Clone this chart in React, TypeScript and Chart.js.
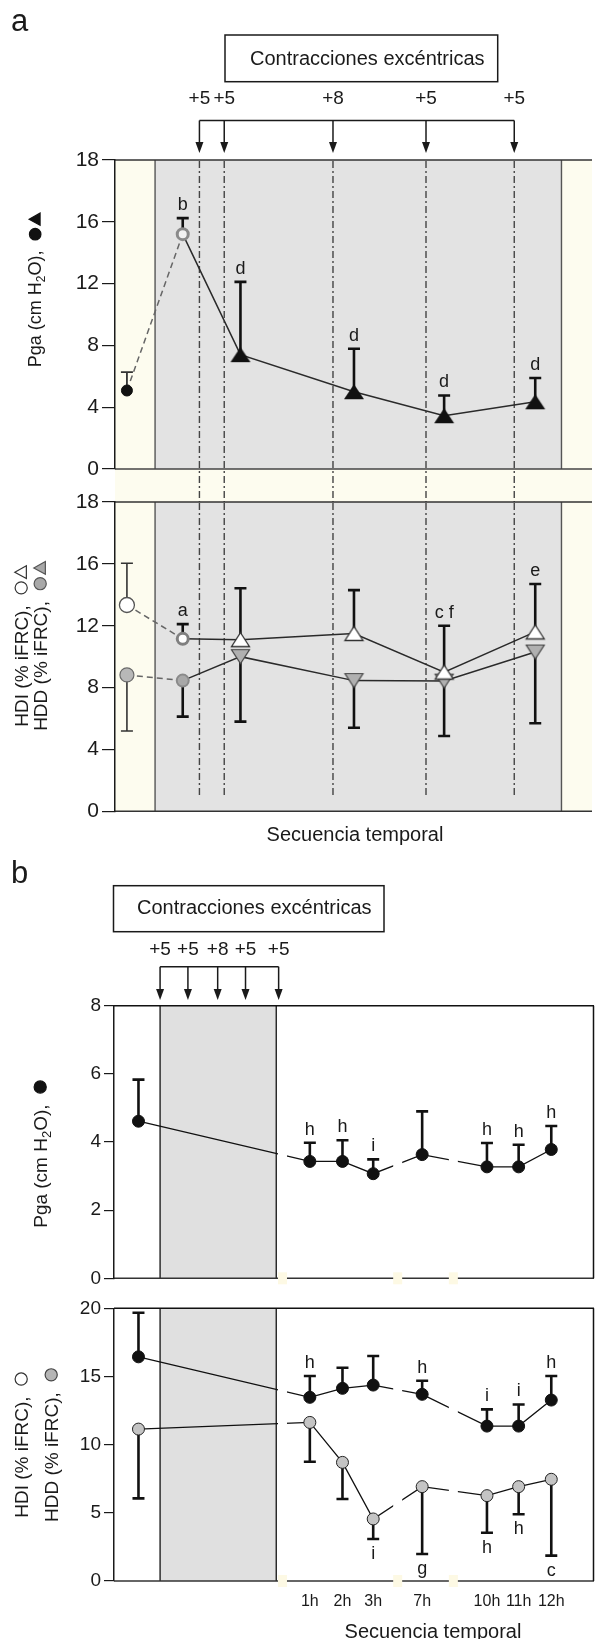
import React, { useEffect, useRef } from "react";
import { Chart, registerables } from "chart.js";

Chart.register(...registerables);

const FONT = "'Liberation Sans', Arial, Helvetica, sans-serif";
const INK = "#1a1a1a";
const YELLOW = "#fdfcef";
const GRAY_A = "#e3e3e3";
const GRAY_B = "#e0e0e0";

// ---------------- Panel a ----------------
const stagesA = ["Basal", "Post", "Serie 1", "Serie 2", "Serie 3", "Serie 4"];
const xA = [2.5, 14.2, 26.3, 50.1, 69.0, 88.1];
const pgaA = [5.08, 15.2, 7.4, 5.0, 3.45, 4.35];
const pgaAErrUp = [6.27, 16.24, 12.11, 7.78, 4.76, 5.89];
const pgaALetters = ["", "b", "d", "d", "d", "d"];
const hdiA = [13.34, 11.15, 11.1, 11.5, 9.0, 11.6];
const hdiAErrUp = [16.04, 12.1, 14.42, 14.3, 12.0, 14.7];
const hdiALetters = ["", "a", "", "", "c f", "e"];
const hddA = [8.82, 8.45, 10.0, 8.45, 8.42, 10.3];
const hddAErrDown = [5.19, 6.12, 5.8, 5.4, 4.87, 5.69];
const boutsA = [17.7, 22.9, 45.7, 65.2, 83.7];
const boutLabels = ["+5", "+5", "+8", "+5", "+5"];
const exerciseBandA = [8.4, 93.6];
const yTicksA = [0, 4, 8, 12, 16, 20];
const yTickLabelsA = ["0", "4", "8", "12", "16", "18"];

// ---------------- Panel b ----------------
const hoursB = ["Basal", "1h", "2h", "3h", "7h", "10h", "11h", "12h"];
const xB = [5.1, 40.8, 47.6, 54.0, 64.2, 77.7, 84.3, 91.1];
const pgaB = [4.61, 3.43, 3.43, 3.07, 3.63, 3.27, 3.27, 3.78];
const pgaBErrUp = [5.83, 3.98, 4.05, 3.49, 4.9, 3.97, 3.92, 4.47];
const pgaBLetters = ["", "h", "h", "i", "", "h", "h", "h"];
const hdiB = [16.44, 13.47, 14.13, 14.37, 13.69, 11.36, 11.36, 13.27];
const hdiBErrUp = [19.67, 15.03, 15.64, 16.5, 14.69, 12.59, 12.95, 15.03];
const hdiBLetters = ["", "h", "", "", "h", "i", "i", "h"];
const hddB = [11.14, 11.63, 8.7, 4.55, 6.92, 6.26, 6.92, 7.46];
const hddBErrDown = [6.06, 8.75, 6.01, 3.08, 1.98, 3.54, 4.89, 1.86];
const hddBLetters = ["", "", "", "i", "g", "h", "h", "c"];
const boutsB = [9.6, 15.4, 21.6, 27.4, 34.3];
const exerciseBandB = [9.6, 33.8];
const axisBreaksB = [35.1, 59.1, 70.7];
const yTicksBTop = [0, 2, 4, 6, 8];
const yTickLabelsBTop = ["0", "2", "4", "6", "8"];
const yTicksBBottom = [0, 5, 10, 15, 20];
const yTickLabelsBBottom = ["0", "5", "10", "15", "20"];

// ---------------- helpers ----------------
function triImg(w: number, h: number, fill: string, stroke: string, lw: number, down: boolean) {
  const c = document.createElement("canvas");
  c.width = Math.ceil(w + lw * 2 + 2);
  c.height = Math.ceil(h + lw * 2 + 2);
  const g = c.getContext("2d") as CanvasRenderingContext2D;
  const ox = c.width / 2, oy = c.height / 2;
  g.beginPath();
  if (!down) {
    g.moveTo(ox, oy - h / 2); g.lineTo(ox + w / 2, oy + h / 2); g.lineTo(ox - w / 2, oy + h / 2);
  } else {
    g.moveTo(ox, oy + h / 2); g.lineTo(ox + w / 2, oy - h / 2); g.lineTo(ox - w / 2, oy - h / 2);
  }
  g.closePath();
  g.fillStyle = fill; g.fill();
  if (lw > 0) { g.lineWidth = lw; g.strokeStyle = stroke; g.lineJoin = "miter"; g.stroke(); }
  return c;
}

function yAxis(min: number, max: number, ticks: number[], labels: string[], width: number, tickLen: number, fontSize: number) {
  return {
    type: "linear", min, max,
    afterBuildTicks: (s: any) => { s.ticks = ticks.map((v) => ({ value: v })); },
    afterFit: (s: any) => { s.width = width; },
    ticks: { callback: (_v: any, i: number) => labels[i], font: { family: FONT, size: fontSize }, color: INK, padding: 3, autoSkip: false },
    grid: { display: true, drawOnChartArea: false, drawTicks: true, tickLength: tickLen, color: INK, lineWidth: 1.2 },
    border: { display: true, color: INK, width: 1.5 },
  };
}

function hLine(ctx: any, x0: number, x1: number, y: number, color: string, w: number) {
  ctx.save(); ctx.strokeStyle = color; ctx.lineWidth = w; ctx.beginPath(); ctx.moveTo(x0, y); ctx.lineTo(x1, y); ctx.stroke(); ctx.restore();
}
function vLine(ctx: any, x: number, y0: number, y1: number, color: string, w: number, dash?: number[]) {
  ctx.save(); ctx.strokeStyle = color; ctx.lineWidth = w; if (dash) ctx.setLineDash(dash);
  ctx.beginPath(); ctx.moveTo(x, y0); ctx.lineTo(x, y1); ctx.stroke(); ctx.restore();
}

function drawErrorBars(chart: any, dsIndex: number, ends: number[], style: (i: number) => { color: string; width: number }) {
  const { ctx } = chart; const xs = chart.scales.x, ys = chart.scales.y;
  const data = chart.data.datasets[dsIndex].data;
  ends.forEach((end, i) => {
    const px = xs.getPixelForValue(data[i].x);
    const py0 = ys.getPixelForValue(data[i].y);
    const py1 = ys.getPixelForValue(end);
    const st = style(i);
    ctx.save(); ctx.strokeStyle = st.color; ctx.lineWidth = st.width;
    ctx.beginPath(); ctx.moveTo(px, py0); ctx.lineTo(px, py1);
    ctx.moveTo(px - 6, py1); ctx.lineTo(px + 6, py1); ctx.stroke(); ctx.restore();
  });
}

function drawLetters(chart: any, dsIndex: number, ends: number[], letters: string[], above: boolean) {
  const { ctx } = chart; const xs = chart.scales.x, ys = chart.scales.y;
  const data = chart.data.datasets[dsIndex].data;
  ctx.save(); ctx.font = `18px ${FONT}`; ctx.fillStyle = INK; ctx.textAlign = "center"; ctx.textBaseline = "alphabetic";
  letters.forEach((t, i) => {
    if (!t) return;
    const px = xs.getPixelForValue(data[i].x);
    const py = ys.getPixelForValue(ends[i]);
    ctx.fillText(t, px, above ? py - 8 : py + 20);
  });
  ctx.restore();
}

type Sym = { kind: "circle" | "tri"; fill: string; stroke: string };
type Part = { text?: string; sub?: boolean; sym?: Sym; gap?: number };

function drawSymbol(ctx: any, s: Sym, cx: number, cy: number, r: number) {
  ctx.beginPath();
  if (s.kind === "circle") ctx.arc(cx, cy, r, 0, Math.PI * 2);
  else { ctx.moveTo(cx, cy - r * 1.05); ctx.lineTo(cx + r * 1.05, cy + r * 0.85); ctx.lineTo(cx - r * 1.05, cy + r * 0.85); ctx.closePath(); }
  ctx.fillStyle = s.fill; ctx.fill();
  ctx.lineWidth = 1.2; ctx.strokeStyle = s.stroke; ctx.stroke();
}

function drawRotatedTitle(ctx: any, cx: number, cy: number, parts: Part[], size: number) {
  ctx.save();
  ctx.translate(cx, cy);
  ctx.rotate(-Math.PI / 2);
  const main = `${size}px ${FONT}`;
  const sub = `${Math.round(size * 0.68)}px ${FONT}`;
  const symW = size * 0.72;
  let total = 0;
  const widths = parts.map((p) => {
    let w = 0;
    if (p.text !== undefined) { ctx.font = p.sub ? sub : main; w = ctx.measureText(p.text).width; }
    else if (p.sym) w = symW;
    else if (p.gap) w = p.gap;
    total += w; return w;
  });
  let x = -total / 2;
  const base = size * 0.36;
  ctx.fillStyle = INK; ctx.textBaseline = "alphabetic"; ctx.textAlign = "left";
  parts.forEach((p, i) => {
    if (p.text !== undefined) {
      ctx.font = p.sub ? sub : main; ctx.fillStyle = INK;
      ctx.fillText(p.text, x, p.sub ? base + size * 0.2 : base);
    } else if (p.sym) {
      drawSymbol(ctx, p.sym, x + widths[i] / 2, base - size * 0.35, size * 0.32);
    }
    x += widths[i];
  });
  ctx.restore();
}

function drawHeader(chart: any, bouts: number[], o: { box: number[]; textX: number; textY: number; labelY: number; bracketY: number; tipY: number; letter: string; letterX: number; letterY: number }) {
  const { ctx } = chart; const xs = chart.scales.x;
  ctx.save();
  ctx.fillStyle = INK; ctx.font = `31px ${FONT}`; ctx.textAlign = "left"; ctx.textBaseline = "alphabetic";
  ctx.fillText(o.letter, o.letterX, o.letterY);
  ctx.strokeStyle = INK; ctx.lineWidth = 1.5;
  ctx.strokeRect(o.box[0], o.box[1], o.box[2], o.box[3]);
  ctx.font = `20px ${FONT}`;
  ctx.fillText("Contracciones excéntricas", o.textX, o.textY);
  ctx.font = `19px ${FONT}`; ctx.textAlign = "center"; ctx.textBaseline = "middle";
  const px = bouts.map((b) => xs.getPixelForValue(b));
  px.forEach((p, i) => ctx.fillText(boutLabels[i], p, o.labelY));
  ctx.lineWidth = 1.5; ctx.strokeStyle = INK;
  ctx.beginPath(); ctx.moveTo(px[0], o.bracketY); ctx.lineTo(px[px.length - 1], o.bracketY); ctx.stroke();
  px.forEach((p) => {
    ctx.beginPath(); ctx.moveTo(p, o.bracketY); ctx.lineTo(p, o.tipY - 8); ctx.stroke();
    ctx.beginPath(); ctx.moveTo(p, o.tipY); ctx.lineTo(p + 4, o.tipY - 11); ctx.lineTo(p - 4, o.tipY - 11); ctx.closePath();
    ctx.fillStyle = INK; ctx.fill();
  });
  ctx.restore();
}

const baseOptions = (padding: any, y: any, x: any) => ({
  responsive: false,
  maintainAspectRatio: false,
  animation: false,
  events: [],
  layout: { padding },
  plugins: { legend: { display: false }, tooltip: { enabled: false }, title: { display: false } },
  scales: { x, y },
});

const hiddenX = { type: "linear", min: 0, max: 100, display: false };

function segStyle(dashFirst: boolean) {
  return {
    borderDash: (c: any) => (dashFirst && c.p0DataIndex === 0 ? [6, 4] : undefined),
    borderColor: (c: any) => (dashFirst && c.p0DataIndex === 0 ? "#666" : "#2a2a2a"),
  };
}

// ---------------- charts ----------------
function makeA1(canvas: HTMLCanvasElement) {
  const tri = triImg(20, 15, "#111", "#111", 0, false);
  const decor = {
    id: "decorA1",
    beforeDraw(chart: any) {
      const { ctx, chartArea: a } = chart; const xs = chart.scales.x;
      ctx.save();
      ctx.fillStyle = YELLOW; ctx.fillRect(a.left, a.top, a.right - a.left, chart.height - a.top);
      const g0 = xs.getPixelForValue(exerciseBandA[0]), g1 = xs.getPixelForValue(exerciseBandA[1]);
      ctx.fillStyle = GRAY_A; ctx.fillRect(g0, a.top, g1 - g0, a.bottom - a.top);
      ctx.restore();
      vLine(ctx, g0, a.top, a.bottom, "#555", 1.4);
      vLine(ctx, g1, a.top, a.bottom, "#555", 1.4);
      hLine(ctx, a.left, a.right, a.top, "#333", 1.5);
      hLine(ctx, a.left, a.right, a.bottom, "#444", 1.5);
    },
    beforeDatasetsDraw(chart: any) {
      const { ctx, chartArea: a } = chart; const xs = chart.scales.x;
      boutsA.forEach((b) => vLine(ctx, xs.getPixelForValue(b), a.top + 1, chart.height, "#444", 1.4, [7, 3, 2, 3]));
      drawErrorBars(chart, 0, pgaAErrUp, (i) => (i === 0 ? { color: "#333", width: 1.8 } : { color: "#111", width: 2.6 }));
    },
    afterDatasetsDraw(chart: any) {
      drawLetters(chart, 0, pgaAErrUp, pgaALetters, true);
    },
    afterDraw(chart: any) {
      drawHeader(chart, boutsA, { box: [225, 35, 272.7, 46.7], textX: 250, textY: 65, labelY: 99, bracketY: 120.5, tipY: 153, letter: "a", letterX: 11, letterY: 31 });
      drawRotatedTitle(chart.ctx, 35, 290, [
        { text: "Pga (cm H" }, { text: "2", sub: true }, { text: "O),  " },
        { sym: { kind: "circle", fill: "#111", stroke: "#111" } }, { gap: 2 },
        { sym: { kind: "tri", fill: "#111", stroke: "#111" } },
      ], 18);
    },
  };
  return new Chart(canvas, {
    type: "line",
    data: {
      labels: stagesA,
      datasets: [{
        label: "Pga",
        data: xA.map((x, i) => ({ x, y: pgaA[i] })),
        borderWidth: 1.5, tension: 0, fill: false,
        segment: segStyle(true),
        pointStyle: ["circle", "circle", tri, tri, tri, tri],
        pointRadius: [5.5, 5.5, 9, 9, 9, 9],
        pointBackgroundColor: ["#111", "#f2f2f2", "#111", "#111", "#111", "#111"],
        pointBorderColor: ["#111", "#8a8a8a", "#111", "#111", "#111", "#111"],
        pointBorderWidth: [1, 3, 0, 0, 0, 0],
      }],
    } as any,
    options: baseOptions({ top: 160, bottom: 33, left: 0, right: 0 }, yAxis(0, 20, yTicksA, yTickLabelsA, 115, 13, 21), hiddenX) as any,
    plugins: [decor],
  });
}

function makeA2(canvas: HTMLCanvasElement) {
  const triW = triImg(18, 14, "#ffffff", "#333", 1.3, false);
  const triG = triImg(18, 14, "#b0b0b0", "#444", 1.2, true);
  const decor = {
    id: "decorA2",
    beforeDraw(chart: any) {
      const { ctx, chartArea: a } = chart; const xs = chart.scales.x;
      ctx.save();
      ctx.fillStyle = YELLOW; ctx.fillRect(a.left, a.top, a.right - a.left, a.bottom - a.top);
      const g0 = xs.getPixelForValue(exerciseBandA[0]), g1 = xs.getPixelForValue(exerciseBandA[1]);
      ctx.fillStyle = GRAY_A; ctx.fillRect(g0, a.top, g1 - g0, a.bottom - a.top);
      ctx.restore();
      vLine(ctx, g0, a.top, a.bottom, "#555", 1.4);
      vLine(ctx, g1, a.top, a.bottom, "#555", 1.4);
      hLine(ctx, a.left, a.right, a.top, "#333", 1.5);
      hLine(ctx, a.left, a.right, a.bottom, "#333", 1.5);
    },
    beforeDatasetsDraw(chart: any) {
      const { ctx, chartArea: a } = chart; const xs = chart.scales.x;
      boutsA.forEach((b) => vLine(ctx, xs.getPixelForValue(b), a.top + 1, a.bottom - 14.6, "#444", 1.4, [7, 3, 2, 3]));
      const st = (i: number) => (i === 0 ? { color: "#333", width: 1.6 } : { color: "#111", width: 2.6 });
      drawErrorBars(chart, 0, hdiAErrUp, st);
      drawErrorBars(chart, 1, hddAErrDown, st);
    },
    afterDatasetsDraw(chart: any) {
      drawLetters(chart, 0, hdiAErrUp, hdiALetters, true);
    },
    afterDraw(chart: any) {
      const { ctx, chartArea: a } = chart;
      drawRotatedTitle(ctx, 21, 162, [
        { text: "HDI (% iFRC),  " },
        { sym: { kind: "circle", fill: "#fff", stroke: "#333" } }, { gap: 2 },
        { sym: { kind: "tri", fill: "#fff", stroke: "#333" } },
      ], 19);
      drawRotatedTitle(ctx, 40, 162, [
        { text: "HDD (% iFRC),  " },
        { sym: { kind: "circle", fill: "#a8a8a8", stroke: "#555" } }, { gap: 2 },
        { sym: { kind: "tri", fill: "#a8a8a8", stroke: "#555" } },
      ], 19);
      ctx.save(); ctx.font = `20px ${FONT}`; ctx.fillStyle = INK; ctx.textAlign = "center"; ctx.textBaseline = "middle";
      ctx.fillText("Secuencia temporal", 355, a.bottom + 24); ctx.restore();
    },
  };
  return new Chart(canvas, {
    type: "line",
    data: {
      labels: stagesA,
      datasets: [
        {
          label: "HDI",
          data: xA.map((x, i) => ({ x, y: hdiA[i] })),
          borderWidth: 1.5, tension: 0, fill: false, segment: segStyle(true),
          pointStyle: ["circle", "circle", triW, triW, triW, triW],
          pointRadius: [7.5, 5.5, 9, 9, 9, 9],
          pointBackgroundColor: ["#fff", "#fff", "#fff", "#fff", "#fff", "#fff"],
          pointBorderColor: ["#555", "#808080", "#333", "#333", "#333", "#333"],
          pointBorderWidth: [1.3, 3, 0, 0, 0, 0],
        },
        {
          label: "HDD",
          data: xA.map((x, i) => ({ x, y: hddA[i] })),
          borderWidth: 1.5, tension: 0, fill: false, segment: segStyle(true),
          pointStyle: ["circle", "circle", triG, triG, triG, triG],
          pointRadius: [7, 6, 9, 9, 9, 9],
          pointBackgroundColor: ["#b8b8b8", "#a8a8a8", "#b0b0b0", "#b0b0b0", "#b0b0b0", "#b0b0b0"],
          pointBorderColor: ["#6a6a6a", "#8a8a8a", "#444", "#444", "#444", "#444"],
          pointBorderWidth: [1.2, 2, 0, 0, 0, 0],
        },
      ],
    } as any,
    options: baseOptions({ top: 18, bottom: 48.7, left: 0, right: 0 }, yAxis(0, 20, yTicksA, yTickLabelsA, 115, 13, 21), hiddenX) as any,
    plugins: [decor],
  });
}

function panelBBackground(chart: any) {
  const { ctx, chartArea: a } = chart; const xs = chart.scales.x;
  const g0 = xs.getPixelForValue(exerciseBandB[0]), g1 = xs.getPixelForValue(exerciseBandB[1]);
  ctx.save(); ctx.fillStyle = GRAY_B; ctx.fillRect(g0, a.top, g1 - g0, a.bottom - a.top); ctx.restore();
  vLine(ctx, g0, a.top, a.bottom, "#111", 1.3);
  vLine(ctx, g1, a.top, a.bottom, "#111", 1.3);
  hLine(ctx, a.left, a.right, a.top, "#111", 1.5);
  hLine(ctx, a.left, a.right, a.bottom, "#333", 1.5);
  vLine(ctx, a.right - 0.5, a.top, a.bottom, "#111", 1.5);
}

function panelBBreaks(chart: any) {
  const { ctx, chartArea: a } = chart; const xs = chart.scales.x;
  ctx.save();
  axisBreaksB.forEach((b) => {
    const p = xs.getPixelForValue(b);
    ctx.fillStyle = "#ffffff"; ctx.fillRect(p - 4.5, a.top + 2, 9, a.bottom - a.top - 4);
    ctx.fillStyle = "#fdf9e4"; ctx.fillRect(p - 4.5, a.bottom - 6, 9, 12);
  });
  ctx.restore();
}

function makeB1(canvas: HTMLCanvasElement) {
  const decor = {
    id: "decorB1",
    beforeDraw: panelBBackground,
    beforeDatasetsDraw(chart: any) {
      drawErrorBars(chart, 0, pgaBErrUp, () => ({ color: "#111", width: 2.6 }));
    },
    afterDatasetsDraw(chart: any) {
      panelBBreaks(chart);
      drawLetters(chart, 0, pgaBErrUp, pgaBLetters, true);
    },
    afterDraw(chart: any) {
      drawHeader(chart, boutsB, { box: [113.5, 40.7, 270.5, 46], textX: 137, textY: 69, labelY: 104.3, bracketY: 121.7, tipY: 155, letter: "b", letterX: 11, letterY: 38 });
      drawRotatedTitle(chart.ctx, 40, 309, [
        { text: "Pga (cm H" }, { text: "2", sub: true }, { text: "O),  " },
        { sym: { kind: "circle", fill: "#111", stroke: "#111" } },
      ], 19);
    },
  };
  return new Chart(canvas, {
    type: "line",
    data: {
      labels: hoursB,
      datasets: [{
        label: "Pga",
        data: xB.map((x, i) => ({ x, y: pgaB[i] })),
        borderColor: "#111", borderWidth: 1.3, tension: 0, fill: false,
        pointStyle: "circle", pointRadius: 6, pointBackgroundColor: "#111", pointBorderColor: "#111", pointBorderWidth: 1,
      }],
    } as any,
    options: baseOptions({ top: 160.7, bottom: 21.7, left: 0, right: 4 }, yAxis(0, 8, yTicksBTop, yTickLabelsBTop, 114, 10, 19), hiddenX) as any,
    plugins: [decor],
  });
}

function makeB2(canvas: HTMLCanvasElement) {
  const decor = {
    id: "decorB2",
    beforeDraw: panelBBackground,
    beforeDatasetsDraw(chart: any) {
      drawErrorBars(chart, 0, hdiBErrUp, () => ({ color: "#111", width: 2.6 }));
      drawErrorBars(chart, 1, hddBErrDown, () => ({ color: "#111", width: 2.6 }));
    },
    afterDatasetsDraw(chart: any) {
      panelBBreaks(chart);
      drawLetters(chart, 0, hdiBErrUp, hdiBLetters, true);
      drawLetters(chart, 1, hddBErrDown, hddBLetters, false);
    },
    afterDraw(chart: any) {
      const { ctx, chartArea: a } = chart;
      drawRotatedTitle(ctx, 21, 155, [
        { text: "HDI (% iFRC),  " },
        { sym: { kind: "circle", fill: "#fff", stroke: "#333" } },
      ], 19);
      drawRotatedTitle(ctx, 51, 155, [
        { text: "HDD (% iFRC),  " },
        { sym: { kind: "circle", fill: "#b5b5b5", stroke: "#444" } },
      ], 19);
      ctx.save(); ctx.font = `20px ${FONT}`; ctx.fillStyle = INK; ctx.textAlign = "center"; ctx.textBaseline = "middle";
      ctx.fillText("Secuencia temporal", 433, a.bottom + 51); ctx.restore();
    },
  };
  const xAxis = {
    type: "linear", min: 0, max: 100, display: true,
    afterBuildTicks: (s: any) => { s.ticks = xB.slice(1).map((v) => ({ value: v })); },
    afterFit: (s: any) => { s.height = 40; },
    ticks: { callback: (_v: any, i: number) => hoursB[i + 1], font: { family: FONT, size: 16 }, color: INK, padding: 11.4, autoSkip: false, maxRotation: 0, minRotation: 0 },
    grid: { display: false, drawTicks: false },
    border: { display: false },
  };
  return new Chart(canvas, {
    type: "line",
    data: {
      labels: hoursB,
      datasets: [
        {
          label: "HDI",
          data: xB.map((x, i) => ({ x, y: hdiB[i] })),
          borderColor: "#111", borderWidth: 1.3, tension: 0, fill: false,
          pointStyle: "circle", pointRadius: 6, pointBackgroundColor: "#111", pointBorderColor: "#111", pointBorderWidth: 1,
        },
        {
          label: "HDD",
          data: xB.map((x, i) => ({ x, y: hddB[i] })),
          borderColor: "#111", borderWidth: 1.3, tension: 0, fill: false,
          pointStyle: "circle", pointRadius: 6, pointBackgroundColor: "#c4c4c4", pointBorderColor: "#222", pointBorderWidth: 1,
        },
      ],
    } as any,
    options: baseOptions({ top: 18.3, bottom: 18, left: 0, right: 4 }, yAxis(0, 20, yTicksBBottom, yTickLabelsBBottom, 114, 10, 19), xAxis) as any,
    plugins: [decor],
  });
}

export default function App() {
  const r1 = useRef<HTMLCanvasElement>(null);
  const r2 = useRef<HTMLCanvasElement>(null);
  const r3 = useRef<HTMLCanvasElement>(null);
  const r4 = useRef<HTMLCanvasElement>(null);
  useEffect(() => {
    const charts = [
      makeA1(r1.current as HTMLCanvasElement),
      makeA2(r2.current as HTMLCanvasElement),
      makeB1(r3.current as HTMLCanvasElement),
      makeB2(r4.current as HTMLCanvasElement),
    ];
    return () => charts.forEach((c) => c.destroy());
  }, []);
  const cs = (top: number, h: number): React.CSSProperties => ({ position: "absolute", left: 0, top, width: 601, height: h });
  return (
    <div style={{ position: "absolute", left: 0, top: 0, width: 601, height: 1639, overflow: "hidden", background: "#ffffff" }}>
      <canvas ref={r1} width={601} height={502} style={cs(0, 502)} />
      <canvas ref={r2} width={601} height={376} style={cs(484, 376)} />
      <canvas ref={r3} width={601} height={455} style={cs(845, 455)} />
      <canvas ref={r4} width={601} height={349} style={cs(1290, 349)} />
    </div>
  );
}
